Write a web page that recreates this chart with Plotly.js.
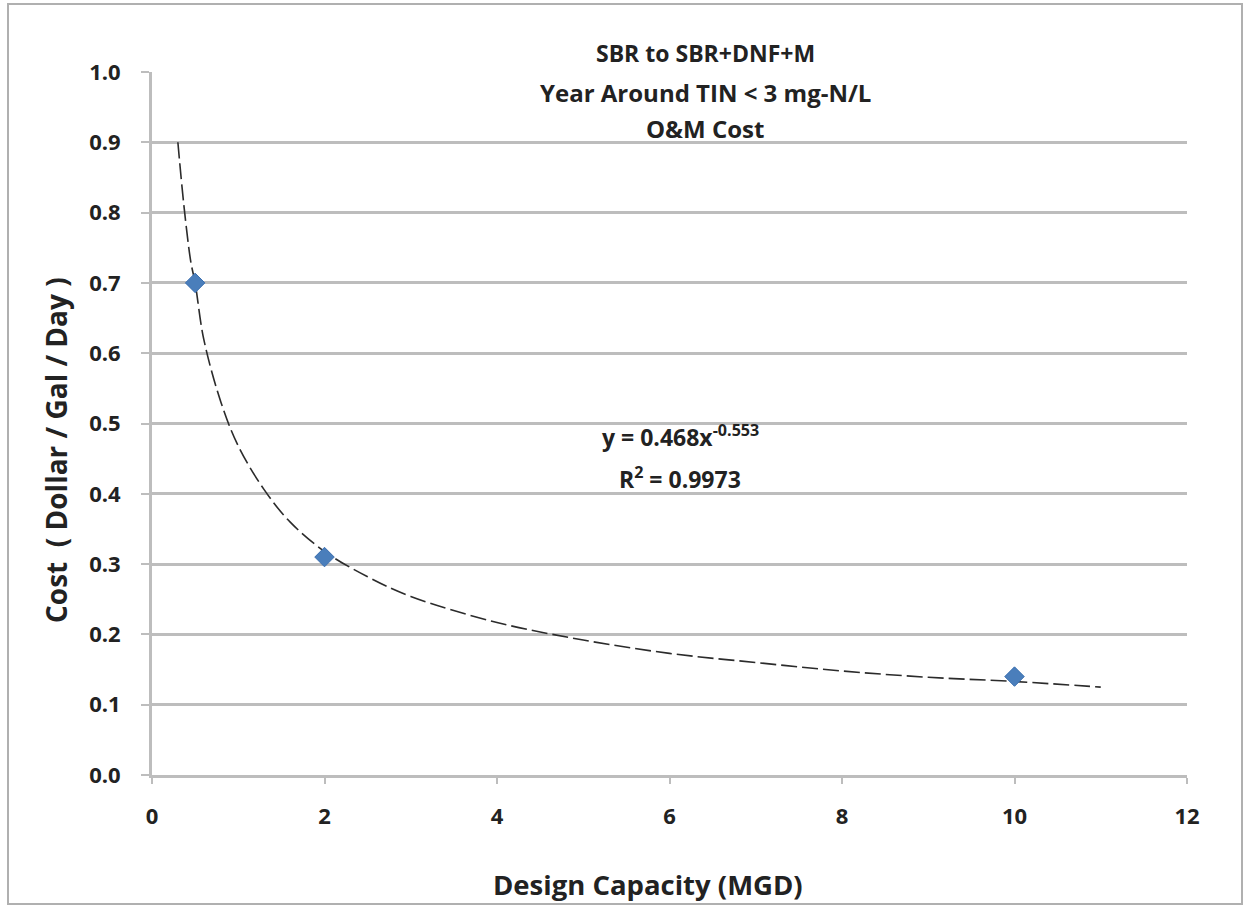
<!DOCTYPE html>
<html>
<head>
<meta charset="utf-8">
<script src="https://cdn.plot.ly/plotly-3.0.1.min.js"></script>
<style>
html,body{margin:0;padding:0;background:#fff;}
#wrap{position:absolute;left:7px;top:3px;width:1236px;height:902px;border:2px solid #b0b0b0;box-sizing:border-box;}
#chart{position:absolute;left:0;top:0;width:1250px;height:913px;}
</style>
</head>
<body>
<div id="wrap"></div>
<div id="chart"></div>
<script>
// Observed data points
const capacity = [0.5, 2, 10];
const cost = [0.70, 0.31, 0.14];

// Power trendline
const trendX = [0.3, 0.37, 0.45, 0.5, 0.6, 0.8, 1.0, 1.3, 1.6, 2.0, 2.5, 3, 4, 5, 6, 7, 8, 9, 10, 11];
const trendY = [0.90, 0.81, 0.73, 0.70, 0.62, 0.53, 0.468, 0.406, 0.36, 0.318, 0.282, 0.254, 0.217, 0.192, 0.173, 0.160, 0.148, 0.139, 0.133, 0.125];

const yTicks = [0, 0.1, 0.2, 0.3, 0.4, 0.5, 0.6, 0.7, 0.8, 0.9, 1.0];
const xTicks = [0, 2, 4, 6, 8, 10, 12];

const titleLines = ["SBR to SBR+DNF+M", "Year Around TIN < 3 mg-N/L", "O&amp;M Cost"];
const equationText = "y = 0.468x<sup>-0.553</sup>";
const r2Text = "R<sup>2</sup> = 0.9973";
const xTitle = "Design Capacity (MGD)";
const yTitle = "Cost  ( Dollar / Gal / Day )";

const fontFam = "'Open Sans', 'Liberation Sans', sans-serif";
const plotTop = 72, plotH = 703, plotL = 152, plotW = 1035;
const py = v => 1 - (v - plotTop) / plotH;
const px = v => (v - plotL) / plotW;

const traces = [
  {
    x: trendX, y: trendY, type: 'scatter', mode: 'lines',
    line: {color: '#2b2b2b', width: 1.6, dash: '16px,5px', shape: 'spline'},
    hoverinfo: 'skip', showlegend: false
  },
  {
    x: capacity, y: cost, type: 'scatter', mode: 'markers',
    marker: {symbol: 'diamond', size: 15, color: '#4a7ebb', line: {color: '#3b6fb0', width: 1}},
    showlegend: false
  }
];

const annFont = s => ({size: s, family: fontFam, color: '#222'});

const layout = {
  width: 1250, height: 913,
  margin: {l: 152, r: 63, t: 72, b: 138},
  paper_bgcolor: 'rgba(0,0,0,0)',
  plot_bgcolor: 'rgba(0,0,0,0)',
  font: {family: fontFam, color: '#222'},
  showlegend: false,
  xaxis: {
    range: [0, 12], tickvals: xTicks, ticktext: xTicks.map(String),
    showgrid: false, zeroline: false,
    showline: true, linecolor: '#bdbdbd', linewidth: 3,
    ticks: 'outside', ticklen: 6, tickcolor: '#bdbdbd', tickwidth: 2,
    ticklabelstandoff: 14,
    tickfont: {size: 22, family: fontFam, color: '#222', weight: 'bold'}
  },
  yaxis: {
    range: [0, 1.0], tickvals: yTicks, ticktext: yTicks.map(v => v.toFixed(1)),
    showgrid: true, gridcolor: '#bdbdbd', gridwidth: 3,
    zeroline: false,
    showline: true, linecolor: '#bdbdbd', linewidth: 3,
    ticks: 'outside', ticklen: 8, tickcolor: '#bdbdbd', tickwidth: 2,
    ticklabelstandoff: 16,
    tickfont: {size: 22, family: fontFam, color: '#222', weight: 'bold'}
  },
  annotations: [
    {xref: 'paper', yref: 'paper', x: px(705), y: py(53), text: '<b>' + titleLines[0] + '</b>', showarrow: false, font: annFont(23), xanchor: 'center', yanchor: 'middle'},
    {xref: 'paper', yref: 'paper', x: px(705), y: py(92), text: '<b>' + titleLines[1] + '</b>', showarrow: false, font: annFont(24), xanchor: 'center', yanchor: 'middle'},
    {xref: 'paper', yref: 'paper', x: px(705), y: py(128), text: '<b>' + titleLines[2] + '</b>', showarrow: false, font: annFont(24), xanchor: 'center', yanchor: 'middle'},
    {xref: 'paper', yref: 'paper', x: px(680), y: py(436), text: '<b>' + equationText + '</b>', showarrow: false, font: annFont(23), xanchor: 'center', yanchor: 'middle'},
    {xref: 'paper', yref: 'paper', x: px(680), y: py(478), text: '<b>' + r2Text + '</b>', showarrow: false, font: annFont(23), xanchor: 'center', yanchor: 'middle'},
    {xref: 'paper', yref: 'paper', x: px(648), y: py(884), text: '<b>' + xTitle + '</b>', showarrow: false, font: annFont(27.5), xanchor: 'center', yanchor: 'middle'},
    {xref: 'paper', yref: 'paper', x: px(56), y: py(450), text: '<b>' + yTitle + '</b>', showarrow: false, textangle: -90, font: annFont(28), xanchor: 'center', yanchor: 'middle'}
  ]
};

Plotly.newPlot('chart', traces, layout, {displayModeBar: false, staticPlot: true});
</script>
</body>
</html>
